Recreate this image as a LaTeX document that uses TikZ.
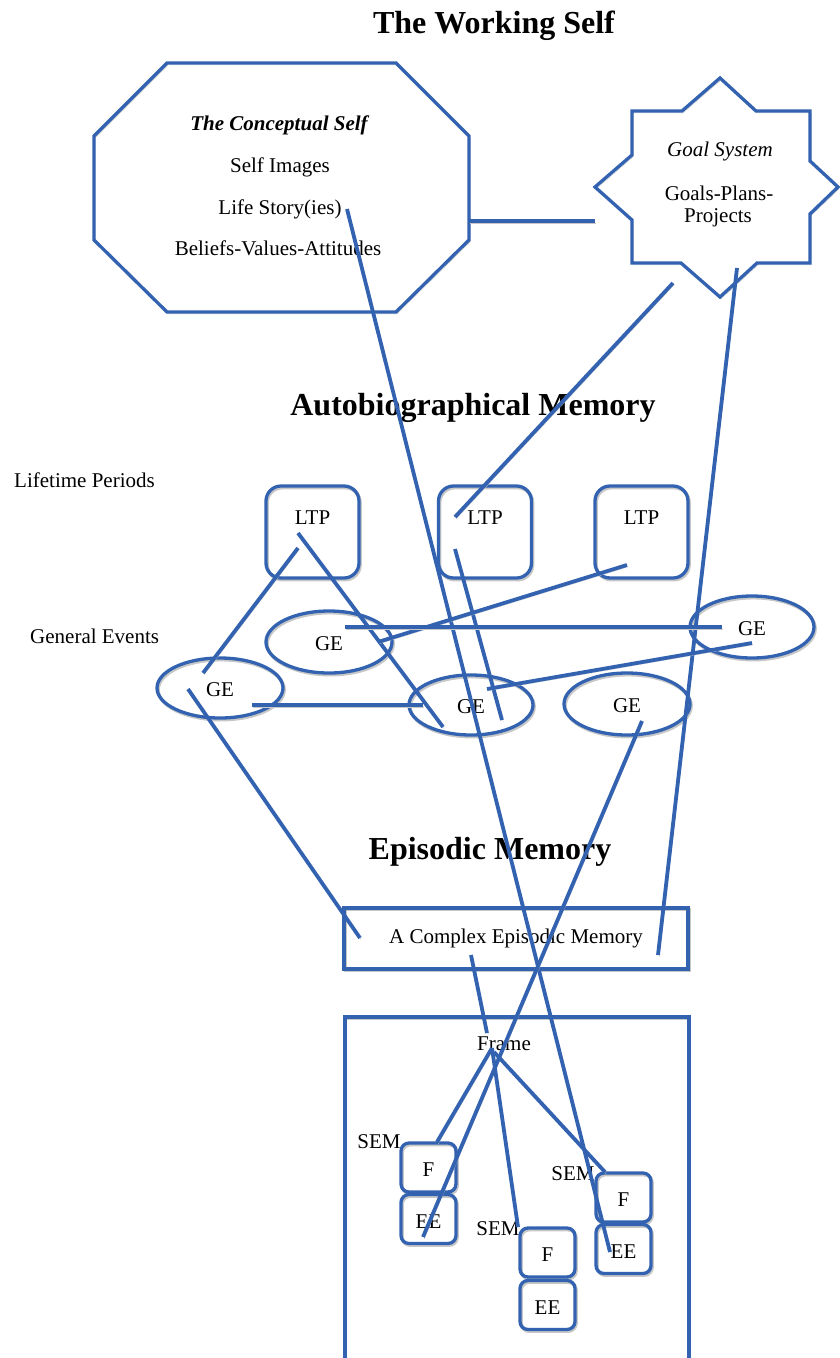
\documentclass[tikz,border=0pt]{standalone}
\usepackage{fontspec}
\setmainfont{Liberation Serif}
\usetikzlibrary{shapes.geometric}
\definecolor{wblue}{RGB}{50,98,176}
\tikzset{
  shd/.style={preaction={draw=black!22, transform canvas={shift={(1.2pt,-1.8pt)}}}},
  txt/.style={inner sep=0pt, font=\fontsize{21}{24}\selectfont},
  ttl/.style={inner sep=0pt, font=\fontsize{32}{36}\selectfont\bfseries},
  outl/.style={shd, draw=wblue, line width=3.3pt},
  conn/.style={shd, draw=wblue, line width=3.8pt},
  ltpbox/.style={outl, rounded corners=15pt, minimum width=93pt, minimum height=92pt, inner sep=0pt,
    font=\fontsize{21}{24}\selectfont, text height=14pt, text depth=30pt},
  gebox/.style={outl, ellipse, inner sep=0pt, font=\fontsize{21}{24}\selectfont, text height=16pt, text depth=0pt},
  sembox/.style={outl, rounded corners=8pt, minimum width=55pt, minimum height=49pt, inner sep=0pt,
    font=\fontsize{21}{24}\selectfont, text height=18pt, text depth=0pt},
}
\begin{document}
\begin{tikzpicture}[x=1pt,y=-1pt]
\useasboundingbox (0,0) rectangle (840,1358);

% titles
\node[ttl, anchor=base] (tws) at (494,33) {The Working Self};
\node[ttl, anchor=base] (abm) at (473,415) {Autobiographical Memory};
\node[ttl, anchor=base] (epm) at (490,859) {Episodic Memory};

% conceptual self octagon
\draw[outl] (94,136) -- (167,63) -- (396,63) -- (469,136) -- (469,240) -- (396,312) -- (167,312) -- (94,240) -- cycle;
\node[txt, anchor=base, font=\fontsize{21}{24}\selectfont\bfseries\itshape] (cs) at (279,130) {The Conceptual Self};
\node[txt, anchor=base] (si) at (280,172) {Self Images};
\node[txt, anchor=base] (ls) at (280,214) {Life Story(ies)};
\node[txt, anchor=base] (bva) at (278,255) {Beliefs-Values-Attitudes};

% goal system star
\draw[outl] (720,78) -- (756,111) -- (810,111) -- (810,161) -- (838,187) -- (810,214) -- (810,263)
  -- (757,263) -- (720,297) -- (681,263) -- (632,263) -- (632,220) -- (595,187) -- (632,155)
  -- (632,111) -- (682,111) -- cycle;
\node[txt, anchor=base, font=\fontsize{21}{24}\selectfont\itshape] (gs) at (720,156) {Goal System};
\node[txt, anchor=base] (gpp) at (719,200) {Goals-Plans-};
\node[txt, anchor=base] (proj) at (718,222) {Projects};

% side labels
\node[txt, anchor=base west] (ltpl) at (14,487) {Lifetime Periods};
\node[txt, anchor=base west] (gel) at (30,643) {General Events};

% lifetime periods
\node[ltpbox] (ltp1) at (312.5,532) {LTP};
\node[ltpbox] (ltp2) at (485,532) {LTP};
\node[ltpbox] (ltp3) at (641.5,532) {LTP};

% general events
\node[gebox, minimum width=126pt, minimum height=62pt] (gea) at (329,642) {GE};
\node[gebox, minimum width=124pt, minimum height=62pt] (geb) at (752,627) {GE};
\node[gebox, minimum width=126pt, minimum height=60pt] (gec) at (220,688) {GE};
\node[gebox, minimum width=124pt, minimum height=60pt] (ged) at (471,705) {GE};
\node[gebox, minimum width=126pt, minimum height=62pt] (gee) at (627,704) {GE};

% complex episodic memory
\node[outl, minimum width=344pt, minimum height=61pt, inner sep=0pt, font=\fontsize{21}{24}\selectfont,
  text height=14pt, text depth=5pt] (cem) at (516,938.5) {A Complex Episodic Memory};

% frame region
\draw[outl] (345,1362) -- (345,1017) -- (689,1017) -- (689,1362);
\node[txt, anchor=base] (frame) at (504,1050) {Frame};

% SEMs
\node[txt, anchor=base] (sem1) at (379,1148) {SEM};
\node[txt, anchor=base] (sem2) at (498,1235) {SEM};
\node[txt, anchor=base] (sem3) at (573,1180) {SEM};
\node[sembox] (f1) at (428.5,1167.5) {F};
\node[sembox] (ee1) at (428.5,1219) {EE};
\node[sembox] (f2) at (547.5,1252.5) {F};
\node[sembox] (ee2) at (547.5,1305) {EE};
\node[sembox] (f3) at (623.5,1197.5) {F};
\node[sembox] (ee3) at (623.5,1249) {EE};

% connector end points
\coordinate (octR) at (469,221);
\coordinate (starL) at (595,221);
\coordinate (starA) at (673,283);
\coordinate (starB) at (737,268);
\coordinate (lsP) at (347,209);
\coordinate (ltp1a) at (298,548);
\coordinate (ltp1b) at (298,533);
\coordinate (ltp2a) at (455,517);
\coordinate (ltp2b) at (455,549);
\coordinate (ltp3a) at (627,565);
\coordinate (geaA) at (378,642);
\coordinate (geaB) at (345,627);
\coordinate (gebA) at (722,627);
\coordinate (gebB) at (752,643);
\coordinate (gecA) at (203,673);
\coordinate (gecB) at (252,705);
\coordinate (gecC) at (188,689);
\coordinate (gedA) at (443,727);
\coordinate (gedB) at (502,720);
\coordinate (gedC) at (487,689);
\coordinate (gedD) at (423,705);
\coordinate (geeA) at (642,721);
\coordinate (cemA) at (658,955);
\coordinate (cemB) at (360,938);
\coordinate (cemC) at (471,955);
\coordinate (frA) at (487,1033);
\coordinate (frB) at (492,1048);
\coordinate (frC) at (494,1052);
\coordinate (f1A) at (437,1142);
\coordinate (f2A) at (518,1227);
\coordinate (f3A) at (605,1172);
\coordinate (ee1A) at (423,1237);
\coordinate (ee3A) at (610,1252);

% connectors
\draw[conn] (octR) -- (starL);
\draw[conn] (starA) -- (ltp2a);
\draw[conn] (starB) -- (cemA);
\draw[conn] (lsP) -- (ee3A);
\draw[conn] (ltp1a) -- (gecA);
\draw[conn] (ltp1b) -- (gedA);
\draw[conn] (ltp2b) -- (gedB);
\draw[conn] (ltp3a) -- (geaA);
\draw[conn] (geaB) -- (gebA);
\draw[conn] (gebB) -- (gedC);
\draw[conn] (gecB) -- (gedD);
\draw[conn] (gecC) -- (cemB);
\draw[conn] (geeA) -- (ee1A);
\draw[conn] (cemC) -- (frA);
\draw[conn] (frB) -- (f1A);
\draw[conn] (frB) -- (f2A);
\draw[conn] (frC) -- (f3A);
\end{tikzpicture}
\end{document}
